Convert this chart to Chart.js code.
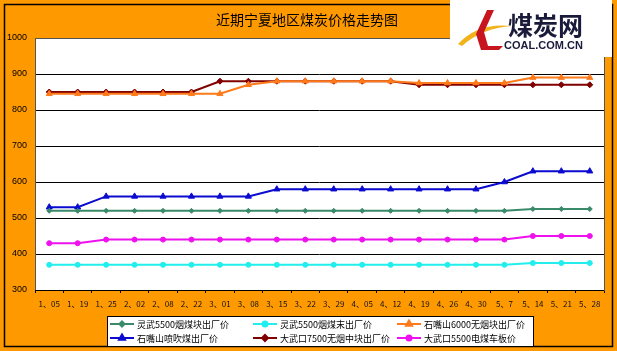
<!DOCTYPE html>
<html>
<head>
<meta charset="utf-8">
<script src="https://cdn.jsdelivr.net/npm/chart.js@4"></script>
<style>
  html, body { margin: 0; padding: 0; background: #fff; }
  #wrap { width: 617px; height: 351px; position: relative; }
</style>
</head>
<body>
<div id="wrap"><canvas id="priceChart" width="617" height="351"></canvas></div>
<script>
// Data
const dates = ['1、05','1、19','1、25','2、02','2、08','2、22','3、01','3、08','3、15','3、22',
               '3、29','4、05','4、12','4、19','4、26','4、30','5、7','5、14','5、21','5、28'];
const yTicks = [300, 400, 500, 600, 700, 800, 900, 1000];

const lingwuLump   = [520,520,520,520,520,520,520,520,520,520,520,520,520,520,520,520,520,525,525,525];
const lingwuFines  = [370,370,370,370,370,370,370,370,370,370,370,370,370,370,370,370,370,375,375,375];
const shizuishan6k = [845,845,845,845,845,845,845,870,880,880,880,880,880,875,875,875,875,890,890,890];
const shizuishanPCI= [530,530,560,560,560,560,560,560,580,580,580,580,580,580,580,580,600,630,630,630];
const dawukou7500  = [850,850,850,850,850,850,880,880,880,880,880,880,880,870,870,870,870,870,870,870];
const dawukou5500  = [430,430,440,440,440,440,440,440,440,440,440,440,440,440,440,440,440,450,450,450];

const seriesNames = ['灵武5500烟煤块出厂价','灵武5500烟煤末出厂价','石嘴山6000无烟块出厂价',
                     '石嘴山喷吹煤出厂价','大武口7500无烟中块出厂价','大武口5500电煤车板价'];

const ORANGE_BG = '#ff9900';
const CJK = '"Noto Sans CJK SC", "Noto Sans", sans-serif';

function makeSet(label, data, color, style, radius) {
  return {
    label: label,
    data: data,
    borderColor: color,
    backgroundColor: color,
    borderWidth: 2,
    pointStyle: style,
    pointRadius: radius,
    pointBorderWidth: 1,
    pointHoverRadius: radius,
    tension: 0
  };
}

// Background, plot frame, title, logo and legend box
const decorPlugin = {
  id: 'decor',
  beforeDraw(chart) {
    const ctx = chart.ctx;
    const a = chart.chartArea;
    ctx.save();
    ctx.fillStyle = ORANGE_BG;
    ctx.fillRect(0, 0, chart.width, chart.height);
    ctx.fillStyle = '#fff';
    ctx.fillRect(a.left, a.top, a.right - a.left, a.bottom - a.top);
    ctx.restore();
  },
  afterDraw(chart) {
    const ctx = chart.ctx;
    const a = chart.chartArea;
    ctx.save();

    // plot frame
    ctx.strokeStyle = '#555';
    ctx.lineWidth = 1;
    ctx.strokeRect(a.left + 0.5, a.top + 0.5, a.right - a.left, a.bottom - a.top);
    ctx.strokeStyle = '#000';
    ctx.beginPath();
    ctx.moveTo(a.left, a.bottom + 0.5);
    ctx.lineTo(a.right, a.bottom + 0.5);
    ctx.stroke();

    // outer border
    ctx.strokeStyle = '#000';
    ctx.lineWidth = 1.5;
    ctx.strokeRect(4.5, 4.5, 608, 342);

    // title
    ctx.fillStyle = '#000';
    ctx.font = '14px ' + CJK;
    ctx.textAlign = 'center';
    ctx.textBaseline = 'middle';
    ctx.fillText('近期宁夏地区煤炭价格走势图', 307, 20);

    // logo block
    ctx.fillStyle = '#fff';
    ctx.fillRect(450, 0, 162, 57);
    ctx.fillStyle = '#f2b21a';
    ctx.beginPath();
    ctx.moveTo(458, 44);
    ctx.quadraticCurveTo(478, 22, 512, 26);
    ctx.quadraticCurveTo(482, 28, 462, 46);
    ctx.closePath();
    ctx.fill();
    ctx.fillStyle = '#c8141e';
    ctx.beginPath();
    ctx.moveTo(487, 10);
    ctx.lineTo(494, 10);
    ctx.lineTo(484, 32);
    ctx.lineTo(488, 46);
    ctx.lineTo(503, 46);
    ctx.lineTo(499, 50);
    ctx.lineTo(481, 50);
    ctx.lineTo(476, 34);
    ctx.closePath();
    ctx.fill();
    ctx.fillStyle = '#1a1a3a';
    ctx.textAlign = 'left';
    ctx.font = 'bold 25px ' + CJK;
    ctx.fillText('煤炭网', 508, 25);
    ctx.font = 'bold 11px "Liberation Sans", Arial, sans-serif';
    ctx.fillText('COAL.COM.CN', 504, 46);

    // legend box
    ctx.fillStyle = '#fff';
    ctx.fillRect(107, 316, 426, 30);
    ctx.strokeStyle = '#000';
    ctx.lineWidth = 1;
    ctx.strokeRect(107.5, 316.5, 426, 30);
    const cols = [110, 253, 397];
    const rows = [324, 338];
    ctx.font = '9px ' + CJK;
    ctx.textBaseline = 'middle';
    chart.data.datasets.forEach((ds, i) => {
      const x = cols[i % 3];
      const y = rows[Math.floor(i / 3)];
      ctx.strokeStyle = ds.borderColor;
      ctx.fillStyle = ds.borderColor;
      ctx.lineWidth = 2;
      ctx.beginPath();
      ctx.moveTo(x, y);
      ctx.lineTo(x + 24, y);
      ctx.stroke();
      Chart.helpers.drawPoint(ctx, {
        pointStyle: ds.pointStyle,
        radius: ds.pointRadius,
        borderWidth: 1
      }, x + 12, y);
      ctx.fillStyle = '#000';
      ctx.fillText(ds.label, x + 27, y + 0.5);
    });
    ctx.restore();
  }
};

const ctx = document.getElementById('priceChart').getContext('2d');
const priceChart = new Chart(ctx, {
  type: 'line',
  data: {
    labels: dates,
    datasets: [
      makeSet(seriesNames[0], lingwuLump,    '#3a8a6a', 'rectRot', 2.5),
      makeSet(seriesNames[1], lingwuFines,   '#22eeee', 'circle', 2.5),
      makeSet(seriesNames[2], shizuishan6k,  '#ff7a1a', 'triangle', 3.5),
      makeSet(seriesNames[3], shizuishanPCI, '#0a0ad0', 'triangle', 3.5),
      makeSet(seriesNames[4], dawukou7500,   '#800000', 'rectRot', 3),
      makeSet(seriesNames[5], dawukou5500,   '#ee10ee', 'circle', 2.5)
    ]
  },
  options: {
    responsive: false,
    animation: false,
    events: [],
    layout: { padding: { left: 4, top: 38, right: 13, bottom: 41 } },
    plugins: {
      legend: { display: false },
      title: { display: false },
      tooltip: { enabled: false }
    },
    scales: {
      x: {
        offset: true,
        grid: {
          offset: true,
          drawOnChartArea: false,
          drawTicks: true,
          tickLength: 3,
          color: '#000'
        },
        border: { display: false },
        ticks: {
          autoSkip: false,
          maxRotation: 0,
          minRotation: 0,
          padding: 6,
          color: '#111',
          font: { family: CJK, size: 8 }
        },
        afterFit(scale) { scale.height = 20; }
      },
      y: {
        min: 300,
        max: 1000,
        afterBuildTicks(scale) {
          scale.ticks = yTicks.map(v => ({ value: v }));
        },
        grid: {
          drawTicks: false,
          color: '#000',
          lineWidth: 1
        },
        border: { display: false },
        ticks: {
          padding: 8,
          color: '#000',
          font: { family: '"Liberation Sans", Arial, sans-serif', size: 9 },
          callback: v => String(v)
        },
        afterFit(scale) { scale.width = 31; }
      }
    }
  },
  plugins: [decorPlugin]
});
</script>
</body>
</html>
